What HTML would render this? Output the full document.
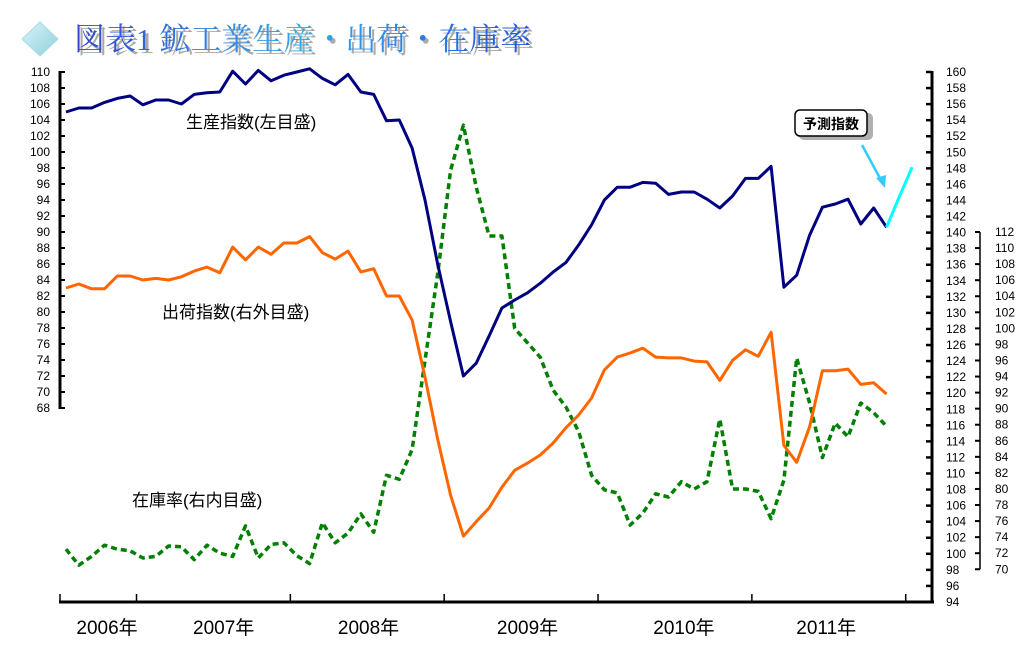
<!DOCTYPE html>
<html><head><meta charset="utf-8">
<style>
html,body{margin:0;padding:0;background:#fff;}
svg{display:block;font-family:"Liberation Sans","Noto Sans CJK JP",sans-serif;}
</style></head>
<body>
<svg id="chart" width="1024" height="669" viewBox="0 0 1024 669">
<defs>
<linearGradient id="tg" x1="0" y1="0" x2="1" y2="0">
<stop offset="0" stop-color="#3344cc"/><stop offset="0.5" stop-color="#33aaee"/><stop offset="1" stop-color="#2255dd"/>
</linearGradient>
<linearGradient id="dg" x1="0" y1="0" x2="1" y2="1">
<stop offset="0" stop-color="#d8f4f8"/><stop offset="1" stop-color="#8fd0dc"/>
</linearGradient>
</defs>
<g>
<polygon points="40,22 58,39 40,56 22,39" fill="url(#dg)" stroke="#a8dde6"/>
<text x="77" y="53" font-family="'Liberation Serif','Noto Serif CJK SC',serif" font-size="31" fill="#aaaaaa">図表1 鉱工業生産・出荷・在庫率</text>
<text x="74" y="50" font-family="'Liberation Serif','Noto Serif CJK SC',serif" font-size="31" fill="url(#tg)">図表1 鉱工業生産・出荷・在庫率</text>
</g>
<g id="axes"></g>
<g id="series"></g>
<g font-family="'Liberation Sans','Noto Sans CJK JP',sans-serif">
<text x="186" y="128" font-size="17" fill="#000">生産指数(左目盛)</text>
<text x="162" y="318" font-size="17" fill="#000">出荷指数(右外目盛)</text>
<text x="132" y="506" font-size="17" fill="#000">在庫率(右内目盛)</text>
<rect x="799" y="113" width="74" height="27" rx="5" fill="#b0b0b0"/>
<rect x="795" y="110" width="72" height="26" rx="5" fill="#fff" stroke="#000" stroke-width="1.5"/>
<text x="831" y="129" font-size="14" font-weight="bold" text-anchor="middle" fill="#000">予測指数</text>
<line x1="862" y1="145" x2="882" y2="182" stroke="#33ccff" stroke-width="2.5"/>
<polygon points="885,188 876,178 886,175" fill="#33ccff"/>
</g>
</svg>
<script>
const production = [105.0,105.5,105.5,106.2,106.7,107.0,105.9,106.5,106.5,106.0,107.2,107.4,107.5,110.1,108.5,110.2,108.9,109.6,110.0,110.4,109.2,108.4,109.7,107.5,107.2,103.9,104.0,100.5,94.0,85.9,78.8,72.0,73.6,77.0,80.5,81.5,82.4,83.6,85.0,86.2,88.4,90.9,94.0,95.6,95.6,96.2,96.1,94.7,95.0,95.0,94.1,93.0,94.5,96.7,96.7,98.2,83.1,84.6,89.6,93.1,93.5,94.1,91.0,93.0,90.6];
const forecast = [90.6,94.4,98.1];
const shipments = [133.1,133.6,133.0,133.0,134.6,134.6,134.1,134.3,134.1,134.5,135.2,135.7,135.0,138.2,136.6,138.2,137.3,138.7,138.7,139.5,137.5,136.7,137.7,135.1,135.5,132.1,132.1,129.1,122.0,114.2,107.3,102.2,104.0,105.7,108.3,110.4,111.3,112.3,113.8,115.7,117.3,119.4,122.9,124.5,125.0,125.6,124.5,124.4,124.4,124.0,123.9,121.6,124.1,125.4,124.6,127.6,113.5,111.4,115.8,122.8,122.8,123.0,121.1,121.3,119.9];
const inventory = [72.5,70.5,71.6,73.0,72.5,72.3,71.4,71.6,72.9,72.8,71.2,73.0,72.0,71.6,75.4,71.4,73.1,73.3,71.7,70.7,75.8,73.3,74.5,76.9,74.6,81.7,81.2,84.9,96.0,106.9,119.7,125.3,117.6,111.5,111.5,100.0,98.2,96.4,92.3,90.2,87.1,81.7,79.9,79.5,75.5,77.0,79.4,79.0,80.9,80.0,80.9,88.7,80.0,80.0,79.7,76.3,81.1,96.3,90.7,83.9,88.2,86.5,90.7,89.5,87.8];
const leftTicks = [68,70,72,74,76,78,80,82,84,86,88,90,92,94,96,98,100,102,104,106,108,110];
const outerTicks = [94,96,98,100,102,104,106,108,110,112,114,116,118,120,122,124,126,128,130,132,134,136,138,140,142,144,146,148,150,152,154,156,158,160];
const innerTicks = [70,72,74,76,78,80,82,84,86,88,90,92,94,96,98,100,102,104,106,108,110,112];
const yearLabels = ["2006年","2007年","2008年","2009年","2010年","2011年"];
const yearTickIdx = [6,18,30,42,54,66];
const yearLabelIdx = [3.2,12.3,23.6,36,48.2,59.3];

const NS="http://www.w3.org/2000/svg";
const xOf = i => 66 + 12.82*i;
const yLeft = v => 72 + (110 - v)*8;
const yOuter = v => 72 + (160 - v)*8.03;
const yInner = v => 232 + (112 - v)*8.03;
function mk(tag, attrs, parent){const e=document.createElementNS(NS,tag);for(const k in attrs)e.setAttribute(k,attrs[k]);parent.appendChild(e);return e;}
const axes=document.getElementById('axes'), series=document.getElementById('series');

let ax=mk('line',{x1:60,y1:71,x2:60,y2:409,stroke:'#000','stroke-width':3},axes);


leftTicks.forEach(v=>{const y=yLeft(v);
 const t=mk('line',{x1:60,y1:y,x2:65,y2:y,stroke:'#000','stroke-width':2},axes);
 
 
 const l=mk('text',{x:50,y:y+4,'font-size':12,'text-anchor':'end',fill:'#000'},axes);
 l.textContent=v;
 
 
});
ax=mk('line',{x1:59,y1:602,x2:934,y2:602,stroke:'#000','stroke-width':3},axes);


[60].concat(yearTickIdx.map(i=>xOf(i-0.5))).forEach(x=>{
 const t=mk('line',{x1:x,y1:594,x2:x,y2:602,stroke:'#000','stroke-width':1.5},axes);
 
 
});
yearLabels.forEach((s,k)=>{
 const l=mk('text',{x:xOf(yearLabelIdx[k]),y:634,'font-size':19,'text-anchor':'middle',fill:'#000'},axes);
 l.textContent=s;
 
 
});
ax=mk('line',{x1:932,y1:71,x2:932,y2:603,stroke:'#000','stroke-width':3},axes);


outerTicks.forEach(v=>{const y=yOuter(v);
 const t=mk('line',{x1:926,y1:y,x2:932,y2:y,stroke:'#000','stroke-width':2.5},axes);
 
 
 const l=mk('text',{x:946,y:y+4,'font-size':12,fill:'#000'},axes);
 l.textContent=v;
 
 
});
ax=mk('line',{x1:980,y1:yInner(112),x2:980,y2:yInner(70),stroke:'#000','stroke-width':1.5},axes);


innerTicks.forEach(v=>{const y=yInner(v);
 const t=mk('line',{x1:975,y1:y,x2:980,y2:y,stroke:'#000','stroke-width':2},axes);
 
 
 const l=mk('text',{x:995,y:y+4,'font-size':12,fill:'#000'},axes);
 l.textContent=v;
 
 
});
function pts(arr,yf,off){return arr.map((v,i)=>xOf(i+(off||0)).toFixed(1)+','+yf(v).toFixed(1)).join(' ');}
let p=mk('polyline',{points:pts(inventory,yInner),fill:'none',stroke:'#008000','stroke-width':3.5,'stroke-dasharray':'6,4','stroke-linejoin':'round'},series);


p=mk('polyline',{points:pts(shipments,yOuter),fill:'none',stroke:'#ff6600','stroke-width':3,'stroke-linejoin':'round'},series);


p=mk('polyline',{points:pts(production,yLeft),fill:'none',stroke:'#000080','stroke-width':3,'stroke-linejoin':'round'},series);


p=mk('polyline',{points:pts(forecast,yLeft,production.length-1),fill:'none',stroke:'#00ffff','stroke-width':3,'stroke-linejoin':'round'},series);


</script>
</body></html>
